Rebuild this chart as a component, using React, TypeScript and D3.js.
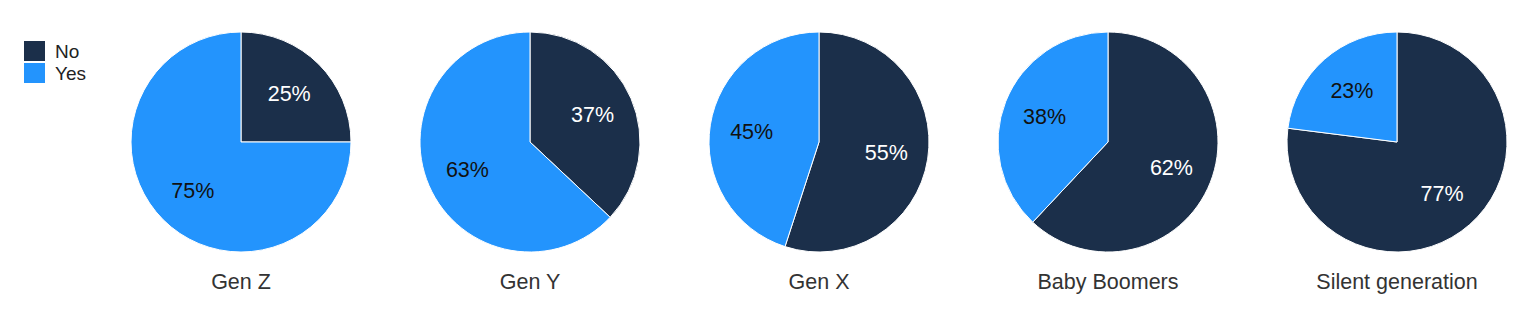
import React from "react";
import * as d3 from "d3";

const categories = ["Gen Z", "Gen Y", "Gen X", "Baby Boomers", "Silent generation"];
const noValues = [25, 37, 55, 62, 77];
const yesValues = [75, 63, 45, 38, 23];
const seriesNames = ["No", "Yes"];
const colors = ["#1b2f4a", "#2394fd"];
const labelColors = ["#ffffff", "#111111"];

const W = 1532;
const H = 323;
const R = 110;
const cy = 142;

export default function App() {
  const x = d3.scalePoint<string>().domain(categories).range([241, 1397]);
  const arc = d3.arc<d3.PieArcDatum<number>>().innerRadius(0).outerRadius(R);
  const labelArc = d3.arc<d3.PieArcDatum<number>>().innerRadius(R * 0.62).outerRadius(R * 0.62);
  const pie = d3.pie<number>().sort(null).value((d) => d);
  const font = "'Liberation Sans', Arial, Helvetica, sans-serif";

  return (
    <svg width={W} height={H} style={{ position: "absolute", left: 0, top: 0, background: "#fff" }} fontFamily={font}>
      {seriesNames.map((s, i) => (
        <g key={s}>
          <rect x={24} y={41 + i * 22} width={21} height={20} fill={colors[i]} />
          <text x={55} y={51 + i * 22} dy="0.35em" fontSize={19} fill="#222">{s}</text>
        </g>
      ))}
      {categories.map((c, ci) => {
        const arcs = pie([noValues[ci], yesValues[ci]]);
        const cx = x(c)!;
        return (
          <g key={c} transform={`translate(${cx},${cy})`}>
            {arcs.map((a, i) => (
              <path key={i} d={arc(a)!} fill={colors[i]} stroke="#fff" strokeWidth={1} />
            ))}
            {arcs.map((a, i) => {
              const [lx, ly] = labelArc.centroid(a);
              return (
                <text key={"l" + i} x={lx} y={ly} dy="0.35em" textAnchor="middle" fontSize={21.5} fill={labelColors[i]}>
                  {(i === 0 ? noValues[ci] : yesValues[ci]) + "%"}
                </text>
              );
            })}
            <text x={0} y={139} dy="0.35em" textAnchor="middle" fontSize={21.5} fill="#333">{c}</text>
          </g>
        );
      })}
    </svg>
  );
}
